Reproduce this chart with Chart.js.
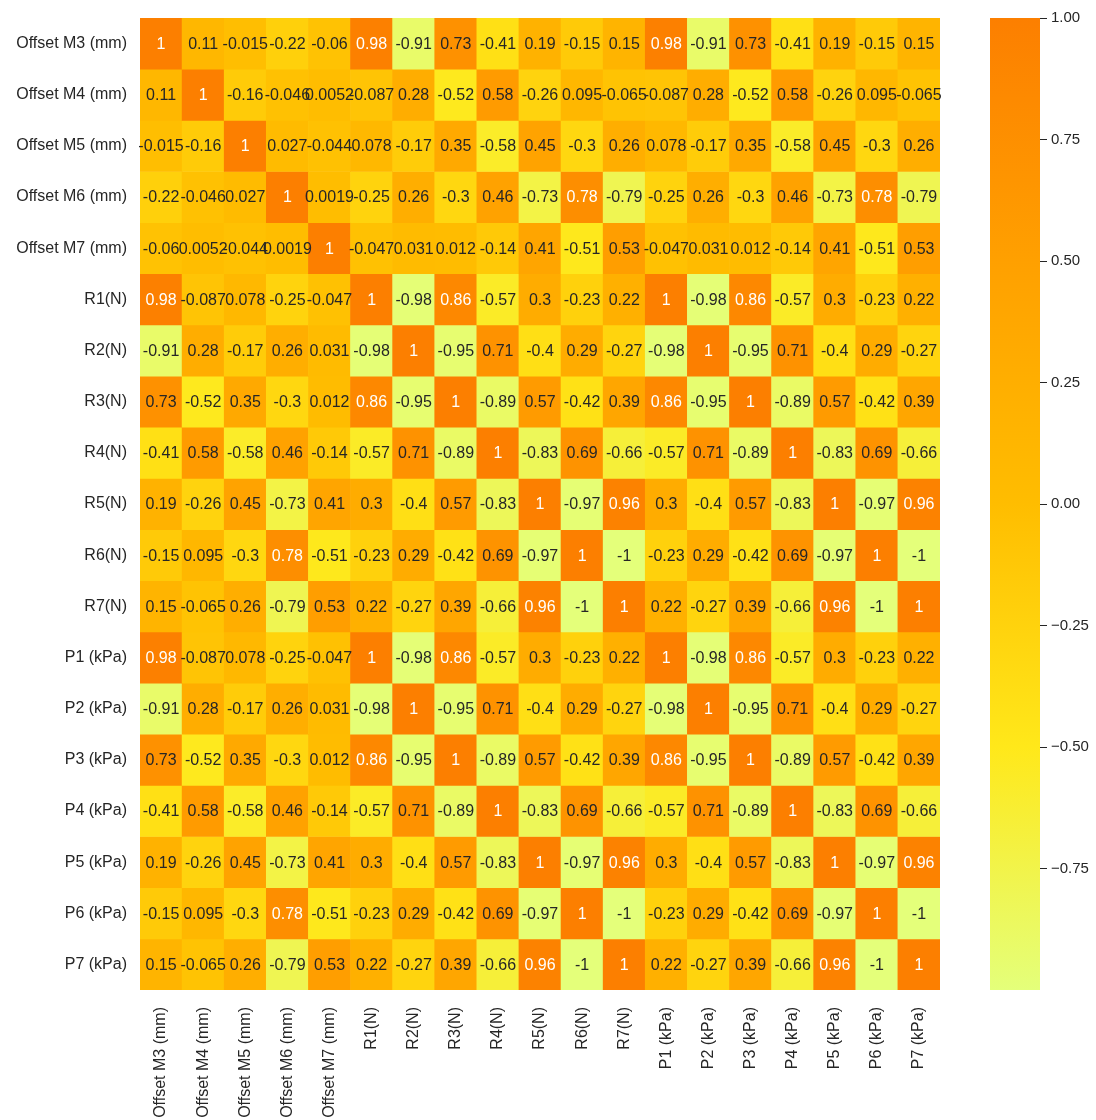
<!DOCTYPE html>
<html>
<head>
<meta charset="utf-8">
<script src="https://cdn.jsdelivr.net/npm/chart.js@4/dist/chart.umd.min.js"></script>
<style>
  html, body { margin: 0; padding: 0; background: #fff; }
  #wrap { position: relative; width: 1096px; height: 1120px; }
  #heat { position: absolute; left: 0; top: 0; }
  #cbar { position: absolute; left: 960px; top: 0; }
</style>
</head>
<body>
<div id="wrap">
  <canvas id="heat" width="960" height="1120"></canvas>
  <canvas id="cbar" width="136" height="1120"></canvas>
</div>
<script>
// --- data ---
const labels = [
  'Offset M3 (mm)', 'Offset M4 (mm)', 'Offset M5 (mm)', 'Offset M6 (mm)', 'Offset M7 (mm)',
  'R1(N)', 'R2(N)', 'R3(N)', 'R4(N)', 'R5(N)', 'R6(N)', 'R7(N)',
  'P1 (kPa)', 'P2 (kPa)', 'P3 (kPa)', 'P4 (kPa)', 'P5 (kPa)', 'P6 (kPa)', 'P7 (kPa)'
];

const rowM3 = [1, 0.11, -0.015, -0.22, -0.06, 0.98, -0.91, 0.73, -0.41, 0.19, -0.15, 0.15, 0.98, -0.91, 0.73, -0.41, 0.19, -0.15, 0.15];
const rowM4 = [0.11, 1, -0.16, -0.046, 0.0052, -0.087, 0.28, -0.52, 0.58, -0.26, 0.095, -0.065, -0.087, 0.28, -0.52, 0.58, -0.26, 0.095, -0.065];
const rowM5 = [-0.015, -0.16, 1, 0.027, -0.044, 0.078, -0.17, 0.35, -0.58, 0.45, -0.3, 0.26, 0.078, -0.17, 0.35, -0.58, 0.45, -0.3, 0.26];
const rowM6 = [-0.22, -0.046, 0.027, 1, 0.0019, -0.25, 0.26, -0.3, 0.46, -0.73, 0.78, -0.79, -0.25, 0.26, -0.3, 0.46, -0.73, 0.78, -0.79];
const rowM7 = [-0.06, 0.0052, -0.044, 0.0019, 1, -0.047, 0.031, 0.012, -0.14, 0.41, -0.51, 0.53, -0.047, 0.031, 0.012, -0.14, 0.41, -0.51, 0.53];
const rowR1 = [0.98, -0.087, 0.078, -0.25, -0.047, 1, -0.98, 0.86, -0.57, 0.3, -0.23, 0.22, 1, -0.98, 0.86, -0.57, 0.3, -0.23, 0.22];
const rowR2 = [-0.91, 0.28, -0.17, 0.26, 0.031, -0.98, 1, -0.95, 0.71, -0.4, 0.29, -0.27, -0.98, 1, -0.95, 0.71, -0.4, 0.29, -0.27];
const rowR3 = [0.73, -0.52, 0.35, -0.3, 0.012, 0.86, -0.95, 1, -0.89, 0.57, -0.42, 0.39, 0.86, -0.95, 1, -0.89, 0.57, -0.42, 0.39];
const rowR4 = [-0.41, 0.58, -0.58, 0.46, -0.14, -0.57, 0.71, -0.89, 1, -0.83, 0.69, -0.66, -0.57, 0.71, -0.89, 1, -0.83, 0.69, -0.66];
const rowR5 = [0.19, -0.26, 0.45, -0.73, 0.41, 0.3, -0.4, 0.57, -0.83, 1, -0.97, 0.96, 0.3, -0.4, 0.57, -0.83, 1, -0.97, 0.96];
const rowR6 = [-0.15, 0.095, -0.3, 0.78, -0.51, -0.23, 0.29, -0.42, 0.69, -0.97, 1, -1, -0.23, 0.29, -0.42, 0.69, -0.97, 1, -1];
const rowR7 = [0.15, -0.065, 0.26, -0.79, 0.53, 0.22, -0.27, 0.39, -0.66, 0.96, -1, 1, 0.22, -0.27, 0.39, -0.66, 0.96, -1, 1];
const rowP1 = [0.98, -0.087, 0.078, -0.25, -0.047, 1, -0.98, 0.86, -0.57, 0.3, -0.23, 0.22, 1, -0.98, 0.86, -0.57, 0.3, -0.23, 0.22];
const rowP2 = [-0.91, 0.28, -0.17, 0.26, 0.031, -0.98, 1, -0.95, 0.71, -0.4, 0.29, -0.27, -0.98, 1, -0.95, 0.71, -0.4, 0.29, -0.27];
const rowP3 = [0.73, -0.52, 0.35, -0.3, 0.012, 0.86, -0.95, 1, -0.89, 0.57, -0.42, 0.39, 0.86, -0.95, 1, -0.89, 0.57, -0.42, 0.39];
const rowP4 = [-0.41, 0.58, -0.58, 0.46, -0.14, -0.57, 0.71, -0.89, 1, -0.83, 0.69, -0.66, -0.57, 0.71, -0.89, 1, -0.83, 0.69, -0.66];
const rowP5 = [0.19, -0.26, 0.45, -0.73, 0.41, 0.3, -0.4, 0.57, -0.83, 1, -0.97, 0.96, 0.3, -0.4, 0.57, -0.83, 1, -0.97, 0.96];
const rowP6 = [-0.15, 0.095, -0.3, 0.78, -0.51, -0.23, 0.29, -0.42, 0.69, -0.97, 1, -1, -0.23, 0.29, -0.42, 0.69, -0.97, 1, -1];
const rowP7 = [0.15, -0.065, 0.26, -0.79, 0.53, 0.22, -0.27, 0.39, -0.66, 0.96, -1, 1, 0.22, -0.27, 0.39, -0.66, 0.96, -1, 1];

const corr = [rowM3, rowM4, rowM5, rowM6, rowM7,
              rowR1, rowR2, rowR3, rowR4, rowR5, rowR6, rowR7,
              rowP1, rowP2, rowP3, rowP4, rowP5, rowP6, rowP7];

const cbarTicks = [-0.75, -0.5, -0.25, 0, 0.25, 0.5, 0.75, 1];

// --- Wistia colormap ---
const wistia = [
  [0.00, [228, 255, 122]],
  [0.25, [255, 232, 26]],
  [0.50, [255, 189, 0]],
  [0.75, [255, 160, 0]],
  [1.00, [252, 127, 0]]
];

function cmapRGB(v) {
  const t = Math.min(1, Math.max(0, (v + 1) / 2));
  for (let i = 1; i < wistia.length; i++) {
    if (t <= wistia[i][0]) {
      const [t0, c0] = wistia[i - 1];
      const [t1, c1] = wistia[i];
      const f = (t - t0) / (t1 - t0);
      return c0.map((c, k) => c + (c1[k] - c) * f);
    }
  }
  return wistia[wistia.length - 1][1];
}

function cmap(v) {
  const [r, g, b] = cmapRGB(v);
  return `rgb(${Math.round(r)},${Math.round(g)},${Math.round(b)})`;
}

// seaborn-style choice of annotation colour
function textColor(v) {
  const lin = cmapRGB(v).map(c => {
    c = c / 255;
    return c <= 0.03928 ? c / 12.92 : Math.pow((c + 0.055) / 1.055, 2.4);
  });
  const lum = 0.2126 * lin[0] + 0.7152 * lin[1] + 0.0722 * lin[2];
  return lum > 0.408 ? '#262626' : '#ffffff';
}

const FONT = "'Liberation Sans', Arial, sans-serif";
const INK = '#262626';

// --- annotations inside cells ---
const cellText = {
  id: 'cellText',
  afterDatasetsDraw(chart) {
    const ctx = chart.ctx;
    ctx.save();
    ctx.font = `16px ${FONT}`;
    ctx.textAlign = 'center';
    ctx.textBaseline = 'middle';
    chart.data.datasets.forEach((ds, i) => {
      chart.getDatasetMeta(i).data.forEach((bar, j) => {
        const v = ds.data[j].v;
        const p = bar.getCenterPoint();
        ctx.fillStyle = textColor(v);
        ctx.fillText(String(v), p.x, p.y + 1);
      });
    });
    ctx.restore();
  }
};

// --- heatmap: each row is one stacked bar dataset ---
new Chart(document.getElementById('heat'), {
  type: 'bar',
  data: {
    labels: labels,
    datasets: corr.map((row, r) => ({
      label: labels[r],
      data: row.map((v, c) => ({ x: labels[c], y: 1, v: v })),
      backgroundColor: ctx => cmap(ctx.raw.v),
      borderWidth: 0,
      barPercentage: 1,
      categoryPercentage: 1
    }))
  },
  options: {
    responsive: false,
    animation: false,
    events: [],
    layout: { padding: { top: 18, right: 20, left: 0, bottom: 0 } },
    plugins: { legend: { display: false }, tooltip: { enabled: false } },
    scales: {
      x: {
        stacked: true,
        grid: { display: false, drawTicks: false },
        border: { display: false },
        ticks: {
          autoSkip: false,
          maxRotation: 90,
          minRotation: 90,
          padding: 17,
          color: INK,
          font: { family: FONT, size: 16 }
        },
        afterFit: s => { s.height = 130; }
      },
      y: {
        display: false,
        stacked: true,
        reverse: true,
        min: 0,
        max: labels.length
      },
      rows: {
        type: 'category',
        position: 'left',
        labels: labels,
        offset: true,
        grid: { display: false, drawTicks: false },
        border: { display: false },
        ticks: {
          autoSkip: false,
          padding: 13,
          color: INK,
          font: { family: FONT, size: 16 }
        },
        afterFit: s => { s.width = 140; s.paddingTop = 0; s.paddingBottom = 0; }
      }
    }
  },
  plugins: [cellText]
});

// --- colour bar ---
new Chart(document.getElementById('cbar'), {
  type: 'bar',
  data: {
    labels: [''],
    datasets: [{
      data: [[-1, 1]],
      borderWidth: 0,
      barPercentage: 1,
      categoryPercentage: 1,
      backgroundColor: ctx => {
        const area = ctx.chart.chartArea;
        if (!area) return null;
        const g = ctx.chart.ctx.createLinearGradient(0, area.bottom, 0, area.top);
        wistia.forEach(([t, c]) => g.addColorStop(t, `rgb(${c.join(',')})`));
        return g;
      }
    }]
  },
  options: {
    responsive: false,
    animation: false,
    events: [],
    layout: { padding: { top: 18, left: 30, bottom: 130, right: 0 } },
    plugins: { legend: { display: false }, tooltip: { enabled: false } },
    scales: {
      x: { display: false },
      y: {
        position: 'right',
        min: -1,
        max: 1,
        afterBuildTicks: s => { s.ticks = cbarTicks.map(v => ({ value: v })); },
        grid: { drawOnChartArea: false, drawTicks: true, tickLength: 7, tickColor: INK, tickWidth: 1 },
        border: { display: false },
        ticks: {
          padding: 4,
          color: INK,
          font: { family: FONT, size: 15 },
          callback: v => v.toFixed(2).replace('-', '\u2212')
        },
        afterFit: s => { s.width = 56; }
      }
    }
  }
});
</script>
</body>
</html>
